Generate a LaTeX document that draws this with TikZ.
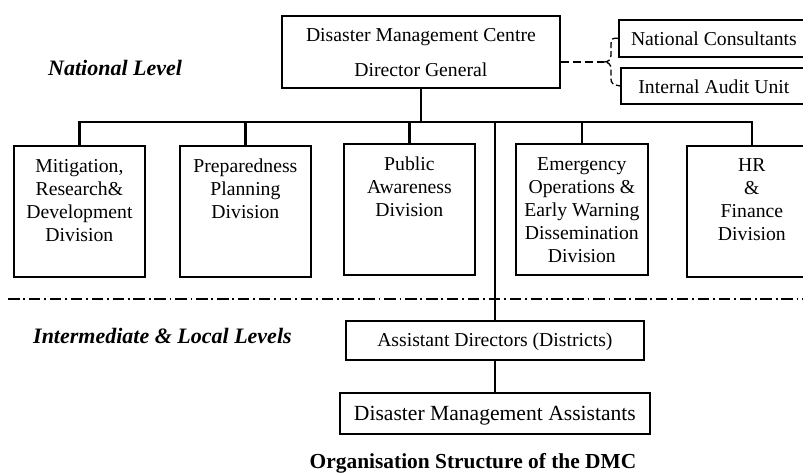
\documentclass[tikz,border=0pt]{standalone}
\usepackage{fontspec}
\setmainfont{Liberation Serif}
% Top-aligned multi-line box content: width, height, first baseline, line pitch, text
\newcommand{\boxtext}[5]{%
  \parbox[t][#2][t]{#1}{\centering\fontsize{19.7}{#4}\selectfont
    \vspace*{\dimexpr #3-0.7\baselineskip\relax}\strut #5\strut}}
\begin{document}
\begin{tikzpicture}[x=1pt,y=-1pt,
  orgbox/.style={draw, line width=1.8pt, inner sep=0pt, anchor=north west},
  link/.style={line width=2.2pt, line cap=rect},
  dashlink/.style={line width=1.6pt, dash pattern=on 8pt off 4pt},
  levelsep/.style={line width=1.8pt, dash pattern=on 11.5pt off 3.8pt on 1.8pt off 3.8pt},
  levellabel/.style={anchor=base west, inner sep=0pt, font=\fontsize{22}{25}\selectfont\bfseries\itshape},
  caption/.style={anchor=base, inner sep=0pt, font=\fontsize{21.4}{24}\selectfont\bfseries}]
\useasboundingbox (0,0) rectangle (803,473);

% head office
\node[orgbox] (dg) at (281,15)
  {\boxtext{278pt}{72pt}{25.7pt}{35pt}{Disaster Management Centre\\Director General}};
\node[orgbox] (nc) at (618,19)
  {\boxtext{190pt}{37pt}{26pt}{22pt}{National Consultants}};
\node[orgbox] (ia) at (620,67)
  {\boxtext{186pt}{36pt}{25.7pt}{22pt}{Internal Audit Unit}};

% divisions
\node[orgbox] (mit) at (13,145)
  {\boxtext{131pt}{131pt}{27pt}{22.8pt}{Mitigation,\\Research\&\\Development\\Division}};
\node[orgbox] (prep) at (179,145)
  {\boxtext{131pt}{131pt}{27pt}{22.8pt}{Preparedness\\Planning\\Division}};
\node[orgbox] (pub) at (343,143)
  {\boxtext{131pt}{131pt}{27pt}{22.8pt}{Public\\Awareness\\Division}};
\node[orgbox] (emer) at (515,143)
  {\boxtext{132pt}{131pt}{27pt}{22.8pt}{Emergency\\Operations \&\\Early Warning\\Dissemination\\Division}};
\node[orgbox] (hr) at (686,145)
  {\boxtext{130pt}{131pt}{26pt}{22.8pt}{HR\\\&\\Finance\\Division}};

% district level
\node[orgbox] (ads) at (345,320)
  {\boxtext{298pt}{39pt}{26pt}{22pt}{Assistant Directors (Districts)}};
\node[orgbox] (dma) at (339,392)
  {\parbox[t][41pt][t]{310pt}{\centering\fontsize{21.6}{24}\selectfont
    \vspace*{\dimexpr 28pt-0.7\baselineskip\relax}\strut Disaster Management Assistants\strut}};

% level captions
\node[levellabel] (natlvl) at (48,76) {National Level};
\node[levellabel] (loclvl) at (33,343) {Intermediate \& Local Levels};
\node[caption] (title) at (473,468) {Organisation Structure of the DMC};

% reporting lines
\coordinate (bus) at (0,122);
\coordinate (cusp) at (604,62);
\draw[link] (dg.south) -- (dg.south |- bus);
\draw[link] (mit.north) -- (mit.north |- bus) -- (hr.north |- bus) -- (hr.north);
\foreach \n in {prep,pub,emer}
  \draw[link] (\n.north |- bus) -- (\n.north);
\draw[link] (ads.north |- bus) -- (ads.north);
\draw[link] (ads.south) -- (dma.north);

% advisory units
\draw[dashlink] (dg.east |- cusp) -- (cusp);
\draw[line width=1.3pt, dash pattern=on 6pt off 3pt]
  (nc.west) .. controls (613,37.5) and (611,39) .. (611,44) -- (611,55)
  .. controls (611,60) and (608,62) .. (cusp)
  .. controls (608,62) and (611,64) .. (611,69) -- (611,79)
  .. controls (611,83) and (613,85) .. (ia.west);

% boundary between national and local levels
\coordinate (sepL) at (8,299);
\coordinate (sepR) at (803,299);
\draw[levelsep] (sepL) -- (sepR);
\end{tikzpicture}
\end{document}
